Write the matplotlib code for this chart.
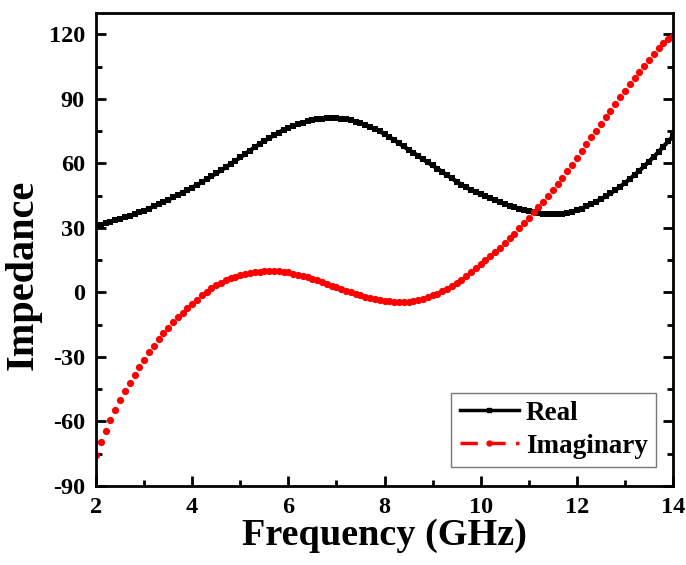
import matplotlib
import matplotlib.pyplot as plt
import numpy as np
from matplotlib.lines import Line2D
from matplotlib.ticker import MultipleLocator

matplotlib.use('Agg')

# frequency grid, 0.1 GHz step
freq = np.round(np.arange(2.0, 14.05, 0.1), 1)

real = [
    31.0, 31.6, 32.2, 32.9, 33.6, 34.3, 35.0, 35.7, 36.5, 37.2,
    38.0, 39.0, 40.0, 41.0, 42.1, 43.1, 44.2, 45.3, 46.4, 47.6,
    48.8, 50.0, 51.3, 52.6, 54.0, 55.4, 56.8, 58.3, 59.8, 61.3,
    62.8, 64.4, 66.0, 67.5, 69.0, 70.4, 71.8, 73.1, 74.4, 75.6,
    76.6, 77.5, 78.3, 79.0, 79.6, 80.1, 80.5, 80.8, 81.0, 81.1,
    81.1, 80.9, 80.6, 80.1, 79.5, 78.8, 78.0, 77.1, 76.1, 75.0,
    73.7, 72.3, 70.9, 69.4, 67.9, 66.4, 65.0, 63.5, 62.0, 60.5,
    59.1, 57.6, 56.1, 54.6, 53.1, 51.6, 50.2, 48.9, 47.7, 46.6,
    45.7, 44.7, 43.8, 42.9, 42.0, 41.2, 40.4, 39.7, 39.0, 38.4,
    37.9, 37.4, 37.0, 36.7, 36.5, 36.4, 36.4, 36.6, 37.0, 37.5,
    38.2, 39.0, 40.0, 41.0, 42.2, 43.4, 44.7, 46.1, 47.6, 49.2,
    50.9, 52.7, 54.6, 56.6, 58.7, 60.9, 63.1, 65.4, 67.8, 70.3,
    72.6,
]

imaginary = [
    -75.7, -69.8, -64.4, -59.3, -54.6, -50.1, -45.9, -41.9, -38.2, -34.6,
    -31.2, -27.9, -24.8, -21.7, -18.9, -16.4, -13.9, -11.6, -9.4, -7.3,
    -5.3, -3.4, -1.3, 0.4, 2.0, 3.4, 4.6, 5.7, 6.6, 7.4,
    8.1, 8.7, 9.1, 9.4, 9.7, 9.8, 9.9, 9.9, 9.8, 9.6,
    9.3, 8.8, 8.3, 7.7, 7.0, 6.3, 5.6, 4.8, 4.0, 3.2,
    2.4, 1.6, 0.8, 0.1, -0.6, -1.3, -1.9, -2.5, -3.0, -3.5,
    -3.9, -4.2, -4.4, -4.5, -4.5, -4.3, -4.0, -3.5, -2.9, -2.2,
    -1.4, -0.5, 0.6, 1.8, 3.1, 4.5, 6.0, 7.6, 9.3, 11.2,
    13.3, 15.1, 17.0, 18.9, 20.9, 23.0, 25.2, 27.4, 29.8, 32.3,
    34.8, 37.3, 39.8, 42.3, 44.9, 47.5, 50.3, 53.2, 56.3, 59.5,
    62.7, 65.9, 69.1, 72.2, 75.3, 78.4, 81.5, 84.6, 87.7, 90.8,
    93.9, 96.9, 99.8, 102.6, 105.4, 108.2, 110.9, 113.5, 115.9, 117.9,
    119.5,
]

x_ticks = [2, 4, 6, 8, 10, 12, 14]
y_ticks = [-90, -60, -30, 0, 30, 60, 90, 120]

plt.rcParams['font.family'] = ['Liberation Serif', 'DejaVu Serif']
plt.rcParams['font.weight'] = 'bold'
plt.rcParams['axes.unicode_minus'] = False

fig = plt.figure(figsize=(6.86, 5.65), dpi=100)
ax = fig.add_axes([0.14, 0.14, 0.841, 0.837])

ax.plot(freq, real, color='black', lw=3, marker='s', ms=4.8, mew=0)
ax.plot(freq, imaginary, color='red', ls='none', marker='o', ms=5.2, mew=0)

ax.set_xlim(2, 14)
ax.set_ylim(-90, 130)
ax.set_xticks(x_ticks)
ax.set_yticks(y_ticks)
ax.xaxis.set_minor_locator(MultipleLocator(1))
ax.yaxis.set_minor_locator(MultipleLocator(15))
ax.tick_params(which='both', direction='in', width=2, top=False, right=True,
               labelsize=17.5, pad=8)
ax.tick_params(which='major', length=7)
ax.tick_params(which='minor', length=4)
for s in ax.spines.values():
    s.set_linewidth(2)

ax.set_xlabel('Frequency (GHz)', fontsize=27.5, fontweight='bold', labelpad=0)
ax.set_ylabel('Impedance', fontsize=29, fontweight='bold')
ax.yaxis.set_label_coords(-0.094, 0.446)

handles = [
    Line2D([], [], color='black', lw=2.5, marker='s', ms=3.5),
    Line2D([], [], color='red', lw=2.5, dashes=(5, 3), marker='o', ms=3.5),
]
leg = ax.legend(handles, ['Real', 'Imaginary'], loc='lower right',
                bbox_to_anchor=(0.9705, 0.04), borderaxespad=0, fancybox=False,
                numpoints=1, handlelength=2.2, handletextpad=0.25, labelspacing=0.3,
                borderpad=0.3, prop={'size': 19.5, 'weight': 'bold'})
leg.get_frame().set_edgecolor('#555555')
leg.get_frame().set_linewidth(1)

fig.savefig('out.png', dpi=100)
